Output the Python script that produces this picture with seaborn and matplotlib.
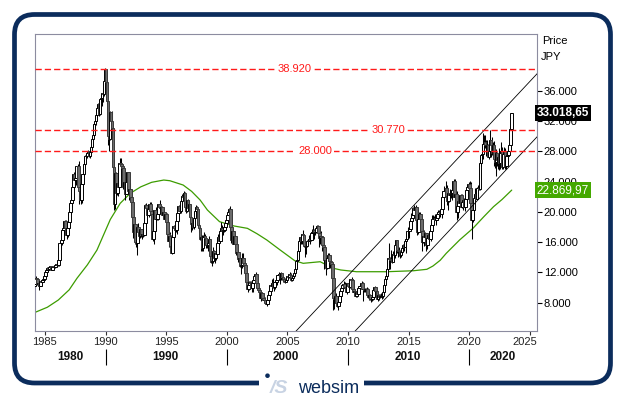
import matplotlib
matplotlib.use("Agg")
import matplotlib.pyplot as plt
import matplotlib.transforms as mtransforms
from matplotlib.patches import FancyBboxPatch, Rectangle, Circle
import numpy as np
import pandas as pd
import seaborn as sns

# Monthly closes (JPY), Jan 1984 .. Jun 2023 (Jan 1984 only used as first open)
closes = [
    10200, 10420, 11260, 11190, 10500, 10630, 10180, 10820, 10700, 11020, 11100, 11543,
    11990, 12300, 12580, 12430, 12700, 12880, 12380, 12720, 12690, 12760, 12980, 13113,
    13025, 13640, 15860, 15830, 16340, 17650, 17800, 18820, 17850, 16910, 17850, 18701,
    20020, 21110, 21570, 23270, 25000, 24180, 24490, 26030, 26010, 23330, 22690, 21564,
    23620, 24960, 26260, 27440, 27420, 27770, 28000, 27370, 27920, 28530, 29580, 30159,
    31580, 31990, 32840, 33710, 34270, 32950, 34950, 35000, 35640, 35550, 37270, 38916,
    37190, 34590, 29980, 29580, 33130, 31940, 31040, 25980, 20980, 25190, 22450, 23849,
    23290, 26410, 26290, 26110, 25790, 23290, 23900, 22340, 23920, 25220, 22690, 22984,
    22020, 21340, 19350, 17390, 18350, 15950, 15910, 18060, 17400, 16770, 17680, 16925,
    17020, 16950, 18590, 20920, 20550, 19590, 20380, 21030, 20110, 19700, 16410, 17417,
    20230, 19100, 19110, 19730, 20970, 20640, 20450, 20630, 19560, 19990, 19080, 19723,
    18650, 17050, 16140, 16810, 15440, 14520, 16680, 18110, 17910, 17650, 18740, 19868,
    20810, 20130, 21410, 22040, 21960, 22530, 20690, 20170, 21560, 20470, 21020, 19361,
    18330, 18560, 18000, 19150, 20070, 20600, 20330, 18230, 17890, 16460, 16630, 15259,
    16630, 16830, 16530, 15640, 15670, 15830, 16380, 14110, 13410, 13560, 14880, 13842,
    14500, 14370, 15840, 16700, 16110, 17530, 17860, 17440, 17600, 17940, 18560, 18934,
    19540, 19960, 20340, 17970, 16330, 17410, 15730, 16860, 15750, 14540, 14650, 13785,
    13840, 12880, 13000, 13930, 13260, 12970, 11860, 10710, 9770, 10370, 10700, 10543,
    9990, 10590, 11020, 11490, 11760, 10620, 9880, 9620, 9380, 8640, 9220, 8579,
    8340, 8360, 7970, 7830, 8420, 9080, 9560, 10340, 10220, 10560, 10100, 10677,
    10780, 11040, 11720, 11760, 11240, 11860, 11330, 11080, 10820, 10770, 11000, 11489,
    11390, 11740, 11670, 11010, 11280, 11580, 11900, 12410, 13570, 13610, 14870, 16111,
    16650, 16210, 17060, 16910, 15470, 15510, 15460, 16140, 16130, 16400, 16270, 17226,
    17380, 17600, 17290, 17400, 17880, 18140, 17250, 16570, 16790, 16740, 15680, 15308,
    13590, 13600, 12530, 13850, 14340, 13480, 13380, 13070, 11260, 8577, 8510, 8860,
    7994, 7568, 8110, 8830, 9520, 9960, 10360, 10490, 10130, 10030, 9350, 10546,
    10200, 10130, 11090, 11060, 9770, 9380, 9540, 8820, 9370, 9200, 9940, 10229,
    10240, 10620, 9760, 9850, 9690, 9820, 9830, 8960, 8700, 8990, 8430, 8455,
    8800, 9720, 10080, 9520, 8540, 9010, 8700, 8840, 8870, 8930, 9450, 10395,
    11140, 11560, 12400, 13860, 13770, 13680, 13670, 13390, 14460, 14330, 15660, 16291,
    14910, 14840, 14830, 14300, 14630, 15160, 15620, 15420, 16170, 16410, 17460, 17451,
    17670, 18800, 19210, 19520, 20560, 20240, 20590, 18890, 17390, 19080, 19750, 19034,
    17520, 16030, 16760, 16670, 17230, 15580, 16570, 16890, 16450, 17430, 18310, 19114,
    19040, 19120, 18910, 19200, 19650, 20030, 19930, 19650, 20360, 22010, 22720, 22765,
    23100, 22070, 21450, 22470, 22200, 22300, 22550, 22870, 24120, 21920, 22350, 20015,
    20770, 21390, 21210, 22260, 20600, 21280, 21520, 20700, 21760, 22930, 23290, 23657,
    23210, 21140, 18920, 20190, 21880, 22290, 21710, 23140, 23190, 22980, 26430, 27444,
    27660, 28970, 29180, 28810, 28860, 28790, 27280, 28090, 29450, 28890, 27820, 28792,
    27000, 26530, 27820, 26850, 27280, 26390, 27800, 28090, 25940, 27590, 27970, 26095,
    27330, 27450, 28040, 28860, 30890, 33018.65,
]

highs = [
    10300, 10550, 11300, 11590, 11290, 10800, 10700, 10900, 10950, 11050, 11250, 11577,
    12050, 12400, 12700, 12650, 12750, 12900, 12900, 12800, 12800, 12800, 13080, 13150,
    13200, 13700, 15900, 16100, 16500, 17700, 18100, 18900, 18930, 17900, 17900, 18820,
    20100, 21200, 21800, 23500, 25300, 25900, 24800, 26100, 26300, 26650, 23900, 23300,
    23800, 25000, 26300, 27500, 27800, 28000, 28200, 28050, 28000, 28600, 29700, 30200,
    31700, 32100, 32900, 33800, 34400, 34300, 34950, 35400, 35700, 35800, 37300, 38957,
    38712, 37400, 34700, 30800, 33300, 33200, 33300, 31100, 26800, 25800, 25200, 24500,
    24100, 26500, 27150, 27100, 26300, 25800, 24200, 23900, 24300, 25300, 25300, 23200,
    23800, 22400, 21400, 19500, 18800, 18400, 16300, 18100, 18500, 17800, 17900, 17700,
    17400, 17300, 18700, 21000, 21200, 20700, 20500, 21280, 21300, 20500, 19800, 17600,
    20300, 20700, 19800, 19800, 21000, 21552, 20800, 20800, 20700, 20100, 20000, 19800,
    19800, 18900, 17200, 17300, 16900, 15500, 16700, 18200, 18400, 18300, 18800, 19900,
    20900, 21000, 21500, 22300, 22500, 22750, 22600, 21100, 21600, 21700, 21500, 21100,
    19500, 18800, 18900, 19300, 20200, 20900, 20800, 20400, 18500, 18100, 17100, 16900,
    17000, 17300, 17100, 16500, 16000, 16000, 16800, 16400, 14300, 14300, 15300, 15000,
    14600, 14600, 16400, 17100, 17000, 17600, 18600, 18200, 18000, 18100, 18600, 19000,
    19600, 20100, 20500, 20833, 18200, 17500, 17600, 16900, 16900, 15900, 15100, 15000,
    14200, 14000, 13200, 14500, 14500, 13500, 13100, 11900, 10900, 10900, 10900, 10800,
    10600, 10700, 11700, 11600, 12000, 11800, 10700, 10100, 9800, 9400, 9300, 9300,
    8800, 8700, 8400, 8400, 8600, 9200, 10000, 10400, 11100, 11200, 10700, 10700,
    11000, 11100, 11800, 12100, 11900, 12000, 11900, 11300, 11300, 11200, 11200, 11500,
    11550, 11750, 12000, 11900, 11300, 11600, 11950, 12500, 13600, 13800, 14900, 16400,
    16700, 16800, 17100, 17563, 17100, 15600, 15700, 16300, 16400, 16900, 16600, 17300,
    17700, 18300, 17700, 17700, 17900, 18300, 18262, 17300, 16900, 17500, 16800, 16200,
    15300, 14100, 13700, 13900, 14600, 14500, 13600, 13400, 13100, 11500, 9500, 8900,
    9300, 8100, 8700, 9100, 9600, 10200, 10400, 10800, 10700, 10400, 10100, 10600,
    10980, 10400, 11100, 11400, 11100, 10200, 9800, 9600, 9600, 9700, 10100, 10300,
    10500, 10850, 10700, 9900, 10000, 9900, 10100, 9900, 9000, 9200, 9000, 8700,
    8900, 9900, 10255, 10100, 9600, 9100, 9100, 9200, 9300, 9200, 9500, 10400,
    11200, 11600, 12600, 13900, 15942, 14000, 14900, 14200, 14800, 14800, 15700, 16320,
    16100, 15100, 15300, 15000, 14700, 15400, 15700, 15600, 16400, 16500, 17500, 18000,
    17800, 18800, 19800, 20200, 20600, 20950, 20700, 20946, 19200, 19100, 20000, 20000,
    18900, 17900, 17300, 17600, 17300, 17200, 16800, 17000, 17100, 17500, 18700, 19600,
    19600, 19500, 19700, 19300, 20000, 20300, 20200, 20100, 20500, 22100, 23400, 23000,
    24130, 23500, 22500, 22500, 23050, 22900, 22900, 23000, 24300, 24400, 22700, 22700,
    20900, 21500, 21900, 22400, 22300, 21300, 21800, 21500, 22300, 22900, 23600, 24000,
    24100, 23900, 21700, 20400, 21900, 23200, 23000, 23300, 23600, 23700, 26800, 27600,
    28900, 30467, 30200, 30200, 29500, 29500, 28900, 28500, 30795, 29500, 29900, 29200,
    29400, 27500, 28300, 27900, 27500, 28400, 28000, 29200, 28500, 27600, 28500, 28400,
    27500, 27700, 28600, 28900, 31400, 33100,
]

lows = [
    9900, 10100, 10400, 11000, 10300, 10250, 9700, 10150, 10600, 10650, 10950, 11100,
    11500, 11900, 12250, 12300, 12350, 12650, 12350, 12350, 12600, 12550, 12700, 12950,
    12900, 12900, 13600, 15200, 15600, 16200, 16900, 17400, 17600, 16400, 16700, 17800,
    18600, 19700, 20700, 21500, 23000, 23900, 23500, 24400, 25000, 21040, 21500, 21000,
    21200, 23500, 24800, 26200, 27000, 27100, 27600, 27200, 27100, 27800, 28500, 29500,
    30000, 31200, 31500, 32700, 33500, 32700, 32800, 34500, 34000, 34500, 35300, 37100,
    36800, 34300, 28800, 28000, 29500, 31300, 30800, 25400, 20222, 20400, 22000, 22200,
    22100, 23200, 25500, 25600, 25300, 23000, 22900, 21500, 22300, 23800, 22500, 21500,
    21800, 20900, 19200, 16600, 17200, 15800, 15300, 14309, 17000, 16300, 16500, 16700,
    16400, 16700, 16800, 18500, 20000, 19400, 19300, 20200, 19800, 19300, 16100, 15700,
    17400, 18600, 18900, 18900, 19600, 20400, 20200, 20300, 19400, 19400, 18900, 18900,
    17800, 16900, 15400, 15600, 15300, 14485, 14500, 16600, 17400, 17400, 17100, 18600,
    19700, 19900, 19800, 21200, 21500, 21700, 20300, 19900, 20000, 20300, 20300, 19200,
    17300, 17600, 17900, 17700, 19000, 19900, 19700, 18000, 17300, 16300, 14800, 14800,
    14800, 16300, 16100, 15200, 15200, 14800, 15700, 13900, 13200, 12787, 13300, 13700,
    13200, 13700, 14300, 15700, 16000, 16000, 17300, 17000, 16900, 17300, 17700, 18300,
    18400, 19000, 19500, 17600, 15900, 16200, 15700, 15700, 15700, 14300, 14100, 13400,
    13100, 12700, 11800, 12600, 13100, 12500, 11600, 10600, 9400, 9700, 10200, 10000,
    9400, 9400, 10400, 11000, 11300, 10100, 9700, 9100, 9100, 8200, 8500, 8500,
    8200, 8300, 7800, 7607, 7800, 8400, 9300, 9400, 10000, 10000, 9600, 9800,
    10500, 10400, 10800, 11600, 10500, 11000, 11000, 10700, 10700, 10600, 10700, 10900,
    11200, 11300, 11600, 10800, 10800, 11200, 11400, 11700, 12300, 13000, 13600, 14800,
    15300, 15800, 15800, 16800, 15400, 14045, 14400, 15400, 15600, 16100, 15800, 16200,
    16800, 17200, 16400, 17000, 17200, 17800, 17200, 15300, 15800, 16300, 14800, 15000,
    12500, 12900, 11700, 12500, 13600, 13400, 12600, 12600, 11200, 6994, 7200, 7900,
    7700, 7400, 7055, 8000, 8600, 9400, 9100, 10100, 9900, 9700, 9100, 9400,
    10100, 9900, 10100, 10900, 9600, 9300, 9100, 8800, 8800, 9100, 9100, 9900,
    10100, 10300, 8227, 9400, 9400, 9400, 9800, 8600, 8400, 8400, 8150, 8200,
    8300, 8800, 9600, 9400, 8500, 8250, 8400, 8600, 8700, 8500, 8600, 9400,
    10400, 10900, 11700, 12000, 13500, 12400, 13700, 13200, 13900, 13800, 13900, 15300,
    14600, 14000, 14200, 13900, 14000, 14600, 15100, 14800, 15300, 14529, 16300, 16600,
    16600, 17600, 18700, 19100, 19400, 19900, 19100, 17700, 16900, 17100, 18900, 18600,
    16000, 14865, 15900, 15500, 16000, 14864, 15100, 16000, 16000, 16400, 16100, 18200,
    18700, 18800, 18900, 18200, 19100, 19400, 19800, 19300, 19200, 20300, 21900, 22200,
    22800, 20900, 20300, 21300, 21900, 21800, 21500, 21900, 22300, 20900, 21200, 18900,
    19200, 20300, 20900, 21100, 20500, 20300, 21000, 20100, 20700, 21300, 22800, 23000,
    22900, 21000, 16358, 18600, 19600, 21500, 21700, 21900, 23000, 22900, 22900, 26000,
    27000, 27000, 28300, 28400, 27400, 28000, 27300, 26954, 28000, 27300, 27500, 27600,
    26000, 25800, 24681, 26000, 25700, 25500, 25600, 27500, 25600, 25600, 27000, 25700,
    25700, 27000, 26600, 27500, 28900, 30800,
]

# long moving average
ma_years = [1984.2, 1985.2, 1986.1, 1987.0, 1987.64, 1988.5, 1989.29, 1990.39, 1991.21,
            1992.04, 1992.9, 1993.8, 1994.8, 1995.3, 1996.4, 1997.1, 1997.8, 1998.4,
            1999.4, 2000.6, 2001.7, 2002.5, 2003.3, 2004.4, 2005.6, 2006.3, 2007.7,
            2008.8, 2009.4, 2010.7, 2013.2, 2015.4, 2016.5, 2017.0, 2017.6, 2018.1,
            2019.2, 2020.3, 2021.2, 2022.0, 2022.7, 2023.5]
ma_values = [6730, 7400, 8350, 9700, 11220, 13000, 14950, 18990, 21130,
             22450, 23300, 23900, 24200, 24110, 23540, 22700, 21560, 20240,
             18700, 18130, 17820, 17100, 16280, 14960, 13550, 13200, 13410,
             12540, 12320, 12090, 12090, 12220, 12410, 12840, 13600, 14520,
             16280, 17820, 19360, 20680, 21630, 22870]

level_values = [38920, 30770, 28000]
level_labels = ["38.920", "30.770", "28.000"]
level_label_years = [2005.6, 2013.3, 2007.3]

channel_years = [2005.0, 2026.0]
channel_upper = [3030, 38940]
channel_lower = [-5300, 30610]

price_ticks = [8000, 12000, 16000, 20000, 24000, 28000, 32000, 36000]
year_ticks = [1985, 1990, 1995, 2000, 2005, 2010, 2015, 2020, 2025]
decade_labels = ["1980", "1990", "2000", "2010", "2020"]
decade_label_years = [1987.1, 1994.9, 2004.9, 2014.9, 2022.8]
decade_bounds = [1990, 2000, 2010, 2020]

last_price = 33018.65
last_ma = 22869.97


def de_fmt(v):
    return f"{v:,.2f}".replace(",", "X").replace(".", ",").replace("X", ".")


sns.set_theme(style="white")
plt.rcParams["font.family"] = ["Liberation Sans", "DejaVu Sans"]

W, H = 625, 398
fig = plt.figure(figsize=(W / 100, H / 100), dpi=100)
fig.patch.set_facecolor("white")
ax = fig.add_axes([35 / W, 1 - 331 / H, (536.7 - 35) / W, (331 - 34) / H])
ax.set_facecolor("white")

dates = pd.date_range("1984-01-01", periods=len(closes), freq="MS")
df = pd.DataFrame({"t": dates.year + (dates.month - 0.5) / 12,
                   "close": closes, "high": highs, "low": lows})
df["open"] = df["close"].shift(1)
df = df.dropna()
df["up"] = df["close"] >= df["open"]

ax.vlines(df["t"], df["low"], df["high"], colors="black", lw=0.75, zorder=3)
ax.bar(df["t"], df["close"] - df["open"], bottom=df["open"], width=0.22,
       color=np.where(df["up"], "white", "#6c6c6c"),
       edgecolor=np.where(df["up"], "black", "#3a3a3a"), linewidth=0.7, zorder=3)

sns.lineplot(x=ma_years, y=ma_values, color="#3c9c00", lw=0.9, ax=ax, zorder=2)

ax.plot(channel_years, channel_upper, color="black", lw=0.6, zorder=4)
ax.plot(channel_years, channel_lower, color="black", lw=0.6, zorder=4)

for v, lab, ly in zip(level_values, level_labels, level_label_years):
    ax.axhline(v, color="#ff1a1a", lw=1.0, ls=(0, (4.5, 2.2)), zorder=4)
    ax.text(ly, v, lab, color="#ff1a1a", fontsize=8, ha="center", va="center", zorder=5,
            bbox=dict(boxstyle="square,pad=0.2", fc="white", ec="none"))

ax.set_xlim(1984.18, 2025.56)
ax.set_ylim(4260, 43490)

for s in ax.spines.values():
    s.set_color("#8c8ca0")
    s.set_linewidth(0.8)

ax.yaxis.tick_right()
ax.set_yticks(price_ticks, labels=[f"{v:,}".replace(",", ".") for v in price_ticks])
ax.tick_params(axis="y", direction="out", length=3.6, width=0.8, color="black",
               pad=1.5, labelsize=8, labelcolor="black", right=True)
ax.set_xticks(year_ticks, labels=[])
ax.tick_params(axis="x", direction="out", length=3, width=0.8, color="#333333", bottom=True)
ax.set_xlabel("")
ax.set_ylabel("")

bt = mtransforms.blended_transform_factory(ax.transData, ax.transAxes)
for i, yr in enumerate(year_ticks):
    if i == len(year_ticks) - 1:
        ax.text(2025.56, -0.037, str(yr), transform=bt, ha="right", va="center",
                fontsize=8, color="#222222", clip_on=False)
    else:
        ax.text(yr, -0.037, str(yr), transform=bt, ha="center", va="center",
                fontsize=8, color="#222222", clip_on=False)
for lab, yr in zip(decade_labels, decade_label_years):
    ax.text(yr, -0.0875, lab, transform=bt, ha="center", va="center",
            fontsize=8.5, fontweight="bold", color="#111111", clip_on=False)
ax.vlines(decade_bounds, -0.061, -0.115, transform=bt, color="black", lw=0.8, clip_on=False)

# value boxes on the price axis (they sit over the tick labels, as in the original)
rt = mtransforms.blended_transform_factory(ax.transAxes, ax.transData)
ax.text(1.0, last_price, de_fmt(last_price), transform=rt, ha="left", va="center",
        fontsize=8.5, fontweight="bold", color="white", zorder=10, clip_on=False,
        bbox=dict(boxstyle="square,pad=0.18", fc="black", ec="none"))
ax.text(1.0, last_ma, de_fmt(last_ma), transform=rt, ha="left", va="center",
        fontsize=8.5, color="white", zorder=10, clip_on=False,
        bbox=dict(boxstyle="square,pad=0.18", fc="#44a800", ec="none"))

fig.text(542 / W, 1 - 41 / H, "Price", fontsize=8, color="black", va="center", ha="left")
fig.text(541 / W, 1 - 57 / H, "JPY", fontsize=8, color="black", va="center", ha="left")

# rounded frame and logo
navy = "#0b2c5c"
ident = mtransforms.IdentityTransform()
fig.add_artist(FancyBboxPatch((14.5, H - 383), 596, 368.5,
                              boxstyle="round,pad=0,rounding_size=20", transform=ident,
                              fill=False, ec=navy, lw=3.4, zorder=1))
fig.add_artist(Rectangle((259, H - 390), 105, 14, transform=ident, fc="white", ec="none", zorder=2))
fig.add_artist(Circle((267.5, H - 375.7), 2.3, transform=ident, fc=navy, ec="none", zorder=3))
fig.text(270 / W, 1 - 392.7 / H, "/S", fontsize=14, fontweight="bold", style="italic",
         color="#c8d3e3", va="baseline", ha="left", zorder=3)
fig.text(298 / W, 1 - 392.7 / H, "websim", fontsize=13, color=navy, va="baseline",
         ha="left", zorder=3)

fig.savefig("out.png", dpi=100, facecolor="white")
